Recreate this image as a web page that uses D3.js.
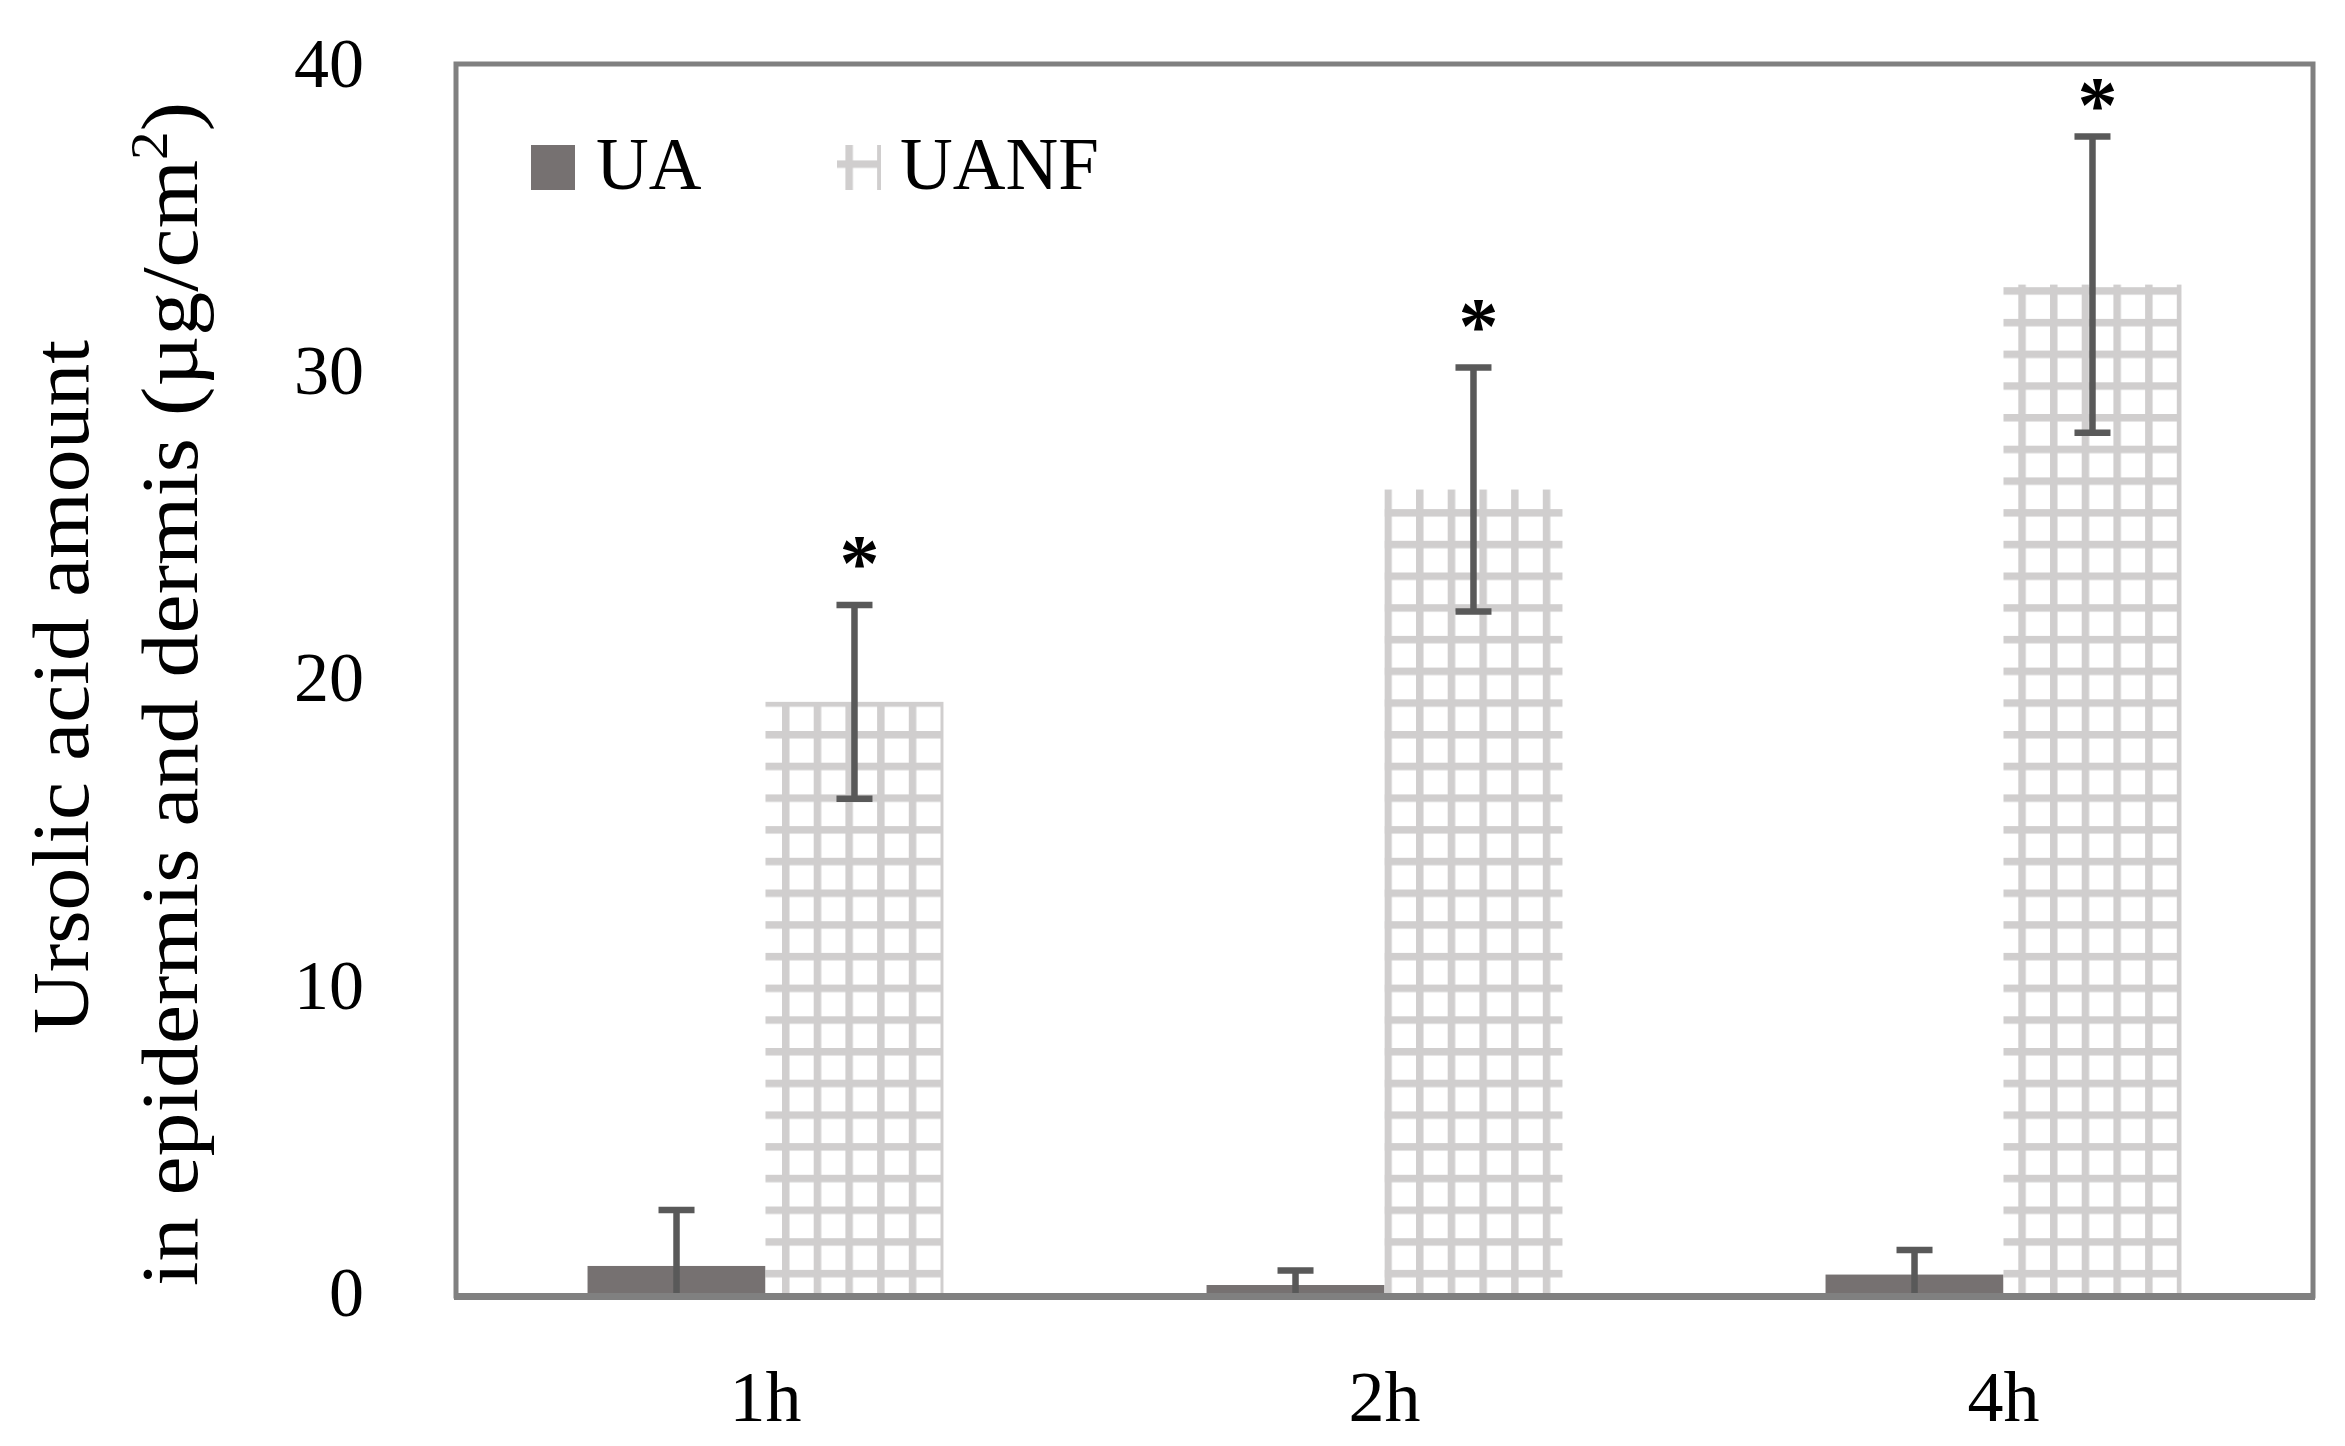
<!DOCTYPE html>
<html><head><meta charset="utf-8">
<script src="https://cdn.jsdelivr.net/npm/d3@7"></script>
<style>body{margin:0;background:#fff;} svg{display:block;}</style>
</head><body>
<svg id="chart" width="2345" height="1446"></svg>
<script>
// ---- data ----
const categories = ["1h", "2h", "4h"];
const seriesNames = ["UA", "UANF"];
const uaMeans = [0.88, 0.26, 0.60];
const uaErrors = [1.82, 0.47, 0.80];
const uanfMeans = [19.24, 26.15, 32.82];
const uanfErrors = [3.15, 3.97, 4.82];
const significance = ["*", "*", "*"];
const yTicks = [0, 10, 20, 30, 40];
const yTitleLine1 = "Ursolic acid amount";
const yTitleLine2 = "in epidermis and dermis (µg/cm";
const yTitleSup = "2";
const yTitleEnd = ")";

// ---- layout ----
const FONT = "'Liberation Serif','Times New Roman',serif";
const svg = d3.select("#chart").style("font-family", FONT);
const plot = {left: 456, right: 2313, top: 64, bottom: 1293};

const x = d3.scaleBand().domain(categories).range([plot.left, plot.right])
  .paddingInner(0.425).paddingOuter(0.2125);
const xs = d3.scaleBand().domain(seriesNames).range([0, x.bandwidth()]).padding(0);
const y = d3.scaleLinear().domain([0, 40]).range([plot.bottom, plot.top]);

const P = 31.7;
const defs = svg.append("defs");
const pat = defs.append("pattern").attr("id", "grid")
  .attr("patternUnits", "userSpaceOnUse")
  .attr("x", 782).attr("y", 731).attr("width", P).attr("height", P);
pat.append("rect").attr("width", P).attr("height", P).attr("fill", "#fff");
pat.append("rect").attr("width", 7.5).attr("height", P).attr("fill", "#d0cece");
pat.append("rect").attr("width", P).attr("height", 7.5).attr("fill", "#d0cece");

const series = [
  {name: "UA", means: uaMeans, errors: uaErrors, fill: "#767171", sig: null},
  {name: "UANF", means: uanfMeans, errors: uanfErrors, fill: "url(#grid)", sig: significance}
];

const rows = [];
series.forEach(s => categories.forEach((c, i) => rows.push({
  cat: c, name: s.name, mean: s.means[i], err: s.errors[i], fill: s.fill,
  sig: s.sig ? s.sig[i] : null
})));

// bars
svg.append("g").selectAll("rect").data(rows).join("rect")
  .attr("x", d => x(d.cat) + xs(d.name))
  .attr("y", d => y(d.mean))
  .attr("width", xs.bandwidth())
  .attr("height", d => y(0) - y(d.mean))
  .attr("fill", d => d.fill);

// error bars
const capHalf = 18;
svg.append("g").selectAll("path").data(rows).join("path")
  .attr("d", d => {
    const cx = x(d.cat) + xs(d.name) + xs.bandwidth() / 2;
    const top = y(d.mean + d.err);
    const lo = d.mean - d.err;
    const bot = lo < 0 ? y(0) : y(lo);
    let p = `M${cx},${bot}V${top}M${cx - capHalf},${top}H${cx + capHalf}`;
    if (lo >= 0) p += `M${cx - capHalf},${bot}H${cx + capHalf}`;
    return p;
  })
  .attr("fill", "none").attr("stroke", "#595959").attr("stroke-width", 6.5);

// significance
svg.append("g").selectAll("text").data(rows.filter(d => d.sig)).join("text")
  .attr("x", d => x(d.cat) + xs(d.name) + xs.bandwidth() / 2 + 5)
  .attr("y", d => Math.max(y(d.mean + d.err) - 52, 95) + 37)
  .attr("text-anchor", "middle")
  .attr("font-size", 80).attr("font-weight", "bold").attr("fill", "#000")
  .text(d => d.sig);

// frame
svg.append("rect").attr("x", plot.left).attr("y", plot.top)
  .attr("width", plot.right - plot.left).attr("height", plot.bottom + 3 - plot.top)
  .attr("fill", "none").attr("stroke", "#808080").attr("stroke-width", 5);
svg.append("line").attr("x1", plot.left - 2).attr("x2", plot.right + 2)
  .attr("y1", plot.bottom + 3.5).attr("y2", plot.bottom + 3.5)
  .attr("stroke", "#808080").attr("stroke-width", 7);

// y axis labels
const yAxis = svg.append("g").attr("transform", `translate(${plot.left},0)`)
  .call(d3.axisLeft(y).tickValues(yTicks).tickSize(0).tickPadding(92).tickFormat(d3.format("d")));
yAxis.select(".domain").remove();
yAxis.selectAll("text").attr("font-size", 70).attr("font-family", FONT).attr("fill", "#000");

// x axis labels
const xAxis = svg.append("g").attr("transform", `translate(0,${plot.bottom})`)
  .call(d3.axisBottom(x).tickSize(0).tickPadding(77));
xAxis.select(".domain").remove();
xAxis.selectAll("text").attr("font-size", 72).attr("font-family", FONT).attr("fill", "#000");

// legend
const legendItems = [
  {name: seriesNames[0], fill: "#767171", kx: 531, tx: 596},
  {name: seriesNames[1], fill: "url(#grid)", kx: 837, tx: 900}
];
const lg = svg.append("g");
lg.selectAll("rect").data(legendItems).join("rect")
  .attr("x", d => d.kx).attr("y", 145).attr("width", 44).attr("height", 45)
  .attr("fill", d => d.fill);
lg.selectAll("text").data(legendItems).join("text")
  .attr("x", d => d.tx).attr("y", 189).attr("font-size", 73).attr("fill", "#000")
  .text(d => d.name);

// y title
svg.append("text").attr("transform", "translate(88,687) rotate(-90)")
  .attr("text-anchor", "middle").attr("font-size", 80)
  .attr("textLength", 694).attr("lengthAdjust", "spacingAndGlyphs")
  .text(yTitleLine1);
const t2 = svg.append("text").attr("transform", "translate(197,694) rotate(-90)")
  .attr("text-anchor", "middle").attr("font-size", 80)
  .attr("textLength", 1184).attr("lengthAdjust", "spacingAndGlyphs");
t2.append("tspan").text(yTitleLine2);
t2.append("tspan").attr("font-size", 52).attr("dy", -30).text(yTitleSup);
t2.append("tspan").attr("dy", 30).text(yTitleEnd);
</script>
</body></html>
